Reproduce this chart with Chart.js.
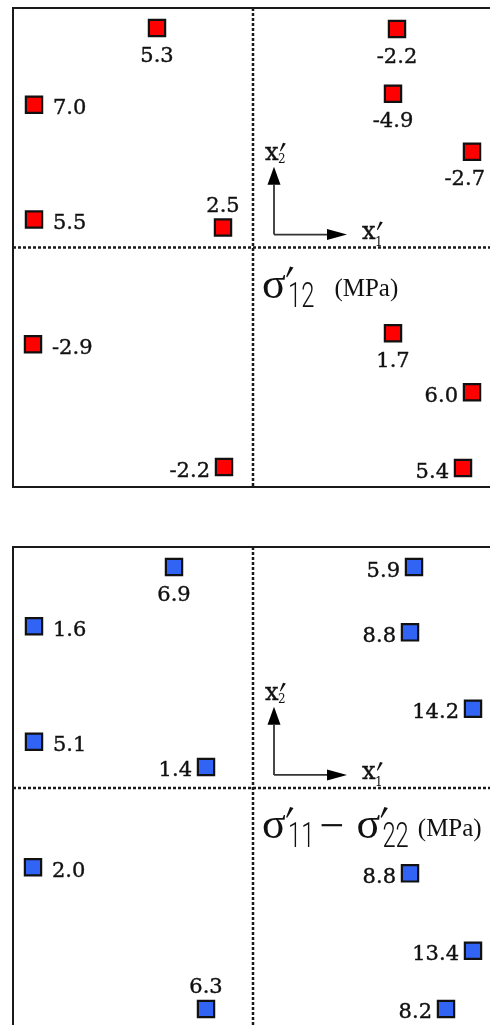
<!DOCTYPE html>
<html>
<head>
<meta charset="utf-8">
<script src="https://cdn.jsdelivr.net/npm/chart.js@4.4.1/dist/chart.umd.min.js"></script>
<style>
  html, body { margin: 0; padding: 0; width: 490px; height: 1025px; overflow: hidden; background: #fff; }
  canvas { position: absolute; left: 0; }
  #shearChart { top: 0; }
  #diffChart { top: 540px; }
</style>
</head>
<body>
<canvas id="shearChart" width="500" height="495"></canvas>
<canvas id="diffChart" width="500" height="495"></canvas>
<script>
// Gauge positions (mm from the centre) and readings, top panel: sigma'12
const shearX = [-24, -54.75, -54.75, -7.5, 36, 35, 54.75, -55, -7.25, 35, 54.75, 52.5];
const shearY = [55, 35.75, 7, 5, 54.75, 38.5, 24, -24.25, -55, -21.5, -36.25, -55.25];
const shearVal = [5.3, 7.0, 5.5, 2.5, -2.2, -4.9, -2.7, -2.9, -2.2, 1.7, 6.0, 5.4];
const shearSide = ['below', 'right', 'right', 'above', 'below', 'below', 'below', 'right', 'left', 'below', 'left', 'left'];

// bottom panel: sigma'11 - sigma'22
const diffX = [-19.75, -54.75, -54.75, -11.75, 40.25, 39.25, 55, -55, -11.75, 39.25, 55, 48.25];
const diffY = [55, 40.25, 11.5, 5.25, 55, 38.75, 19.75, -19.75, -55, -21.25, -40.5, -55];
const diffVal = [6.9, 1.6, 5.1, 1.4, 5.9, 8.8, 14.2, 2.0, 6.3, 8.8, 13.4, 8.2];
const diffSide = ['below', 'right', 'right', 'left', 'left', 'left', 'left', 'right', 'above', 'left', 'left', 'left'];

const labelFont = 21;

function arrow(ctx, x1, y1, x2, y2, len, half) {
  const ang = Math.atan2(y2 - y1, x2 - x1);
  const bx = x2 - len * Math.cos(ang), by = y2 - len * Math.sin(ang);
  ctx.beginPath();
  ctx.moveTo(x1, y1);
  ctx.lineTo(bx, by);
  ctx.stroke();
  ctx.beginPath();
  ctx.moveTo(x2, y2);
  ctx.lineTo(bx - half * Math.sin(ang), by + half * Math.cos(ang));
  ctx.lineTo(bx + half * Math.sin(ang), by - half * Math.cos(ang));
  ctx.closePath();
  ctx.fill();
}

// wedge-shaped prime mark, (px, py) = top of the mark
function prime(ctx, px, py, s) {
  ctx.beginPath();
  ctx.moveTo(px, py);
  ctx.lineTo(px + 3.5 * s, py + s);
  ctx.lineTo(px - 3 * s, py + 11 * s);
  ctx.lineTo(px - 3.8 * s, py + 10 * s);
  ctx.closePath();
  ctx.fill();
}

// sigma with prime and thin condensed subscript, returns the x where it ends
function sigma(ctx, sx, b, sub) {
  ctx.textAlign = 'left';
  ctx.font = '44px "Liberation Serif"';
  ctx.fillText('σ', sx, b);
  prime(ctx, sx + 28, b - 31, 1);
  ctx.save();
  ctx.translate(sx + 26, b + 9);
  ctx.scale(0.68, 1);
  ctx.font = '300 35px Roboto';
  ctx.fillText(sub, 0, 0);
  const w = ctx.measureText(sub).width * 0.68;
  ctx.restore();
  return sx + 26 + w;
}

const panelPlugin = {
  id: 'panel',
  beforeDatasetsDraw(chart) {
    const { ctx, chartArea: a, scales: { x, y } } = chart;
    const x0 = x.getPixelForValue(0), y0 = y.getPixelForValue(0);
    ctx.save();
    // frame
    ctx.strokeStyle = '#1a1a1a';
    ctx.lineWidth = 2;
    ctx.strokeRect(a.left, a.top, a.width, a.height);
    // dotted centre lines
    ctx.setLineDash([3, 2]);
    ctx.lineWidth = 2.5;
    ctx.beginPath();
    ctx.moveTo(x0, a.top); ctx.lineTo(x0, a.bottom);
    ctx.moveTo(a.left, y0); ctx.lineTo(a.right, y0);
    ctx.stroke();
    ctx.restore();
  },
  afterDatasetsDraw(chart, args, opts) {
    const { ctx, chartArea: a, scales: { x, y } } = chart;
    const pts = chart.getDatasetMeta(0).data;
    ctx.save();
    ctx.fillStyle = '#111';
    ctx.strokeStyle = '#111';

    // value labels next to each square
    ctx.font = labelFont + 'px "DejaVu Serif"';
    ctx.textBaseline = 'alphabetic';
    ctx.lineWidth = 0.4;
    const lift = 0.36 * labelFont;
    const put = (txt, tx, ty) => { ctx.fillText(txt, tx, ty); ctx.strokeText(txt, tx, ty); };
    pts.forEach((p, i) => {
      const txt = opts.values[i].toFixed(1);
      const side = opts.sides[i];
      const w = ctx.measureText(txt).width;
      const cx = Math.min(p.x, a.right - 8 - w / 2);
      if (side === 'right') {
        ctx.textAlign = 'left';
        put(txt, p.x + 19, p.y + 2 + lift);
      } else if (side === 'left') {
        ctx.textAlign = 'right';
        put(txt, p.x - 14, p.y + 2 + lift);
      } else if (side === 'below') {
        ctx.textAlign = 'center';
        put(txt, cx, p.y + 26 + lift);
      } else {
        ctx.textAlign = 'center';
        put(txt, cx, p.y - 23 + lift);
      }
    });

    // local axes x'1, x'2
    const ox = x.getPixelForValue(5.25), oy = y.getPixelForValue(3.25);
    ctx.fillStyle = '#000';
    ctx.strokeStyle = '#333';
    ctx.lineWidth = 1.8;
    arrow(ctx, ox, oy, ox, y.getPixelForValue(20.25), 18, 6.5);
    arrow(ctx, ox, oy, x.getPixelForValue(23.5), oy, 20, 5.5);
    ctx.fillStyle = '#111';
    ctx.strokeStyle = '#111';
    ctx.lineWidth = 0.4;
    ctx.textAlign = 'left';
    ctx.font = '24px "DejaVu Serif"';
    const l2x = ox - 9, l2y = y.getPixelForValue(22);
    const l1x = x.getPixelForValue(27.25), l1y = oy + 4;
    put('x', l2x, l2y);
    put('x', l1x, l1y);
    prime(ctx, l2x + 18, l2y - 17, 0.8);
    prime(ctx, l1x + 18, l1y - 17, 0.8);
    ctx.font = '12px "DejaVu Serif"';
    ctx.fillText('2', l2x + 13, l2y + 3);
    ctx.fillText('1', l1x + 13, l1y + 7);

    // panel title
    const x0 = x.getPixelForValue(0), y0 = y.getPixelForValue(0);
    const b = y0 + 50;
    let tx = x0 + 9;
    opts.subs.forEach((s, k) => {
      if (k > 0) {
        ctx.font = '44px "Liberation Serif"';
        ctx.fillText('−', tx + 5, b + 2);
        tx += 42;
      }
      tx = sigma(ctx, tx, b, s);
    });
    ctx.font = '25px "Liberation Serif"';
    ctx.fillText('(MPa)', tx + opts.gap, y0 + 48);
    ctx.restore();
  }
};

function makeChart(id, xs, ys, vals, sides, color, subs, gap, padTop, padBottom) {
  return new Chart(document.getElementById(id), {
    type: 'scatter',
    data: {
      datasets: [{
        data: xs.map((v, i) => ({ x: v, y: ys[i] })),
        pointStyle: 'rect',
        pointRadius: 11.5,
        pointHoverRadius: 11.5,
        backgroundColor: color,
        borderColor: '#111',
        borderWidth: 2.2
      }]
    },
    options: {
      responsive: false,
      animation: false,
      devicePixelRatio: 1,
      events: [],
      layout: { autoPadding: false, padding: { left: 13, right: 7, top: padTop, bottom: padBottom } },
      plugins: {
        legend: { display: false },
        tooltip: { enabled: false },
        panel: { values: vals, sides: sides, subs: subs, gap: gap }
      },
      scales: {
        x: { type: 'linear', min: -60, max: 60, display: false },
        y: { type: 'linear', min: -60, max: 60, display: false }
      }
    },
    plugins: [panelPlugin]
  });
}

makeChart('shearChart', shearX, shearY, shearVal, shearSide, '#ff0000', ['12'], 20, 8, 8);
makeChart('diffChart', diffX, diffY, diffVal, diffSide, '#3164f4', ['11', '22'], 9, 7, 6);
</script>
</body>
</html>
